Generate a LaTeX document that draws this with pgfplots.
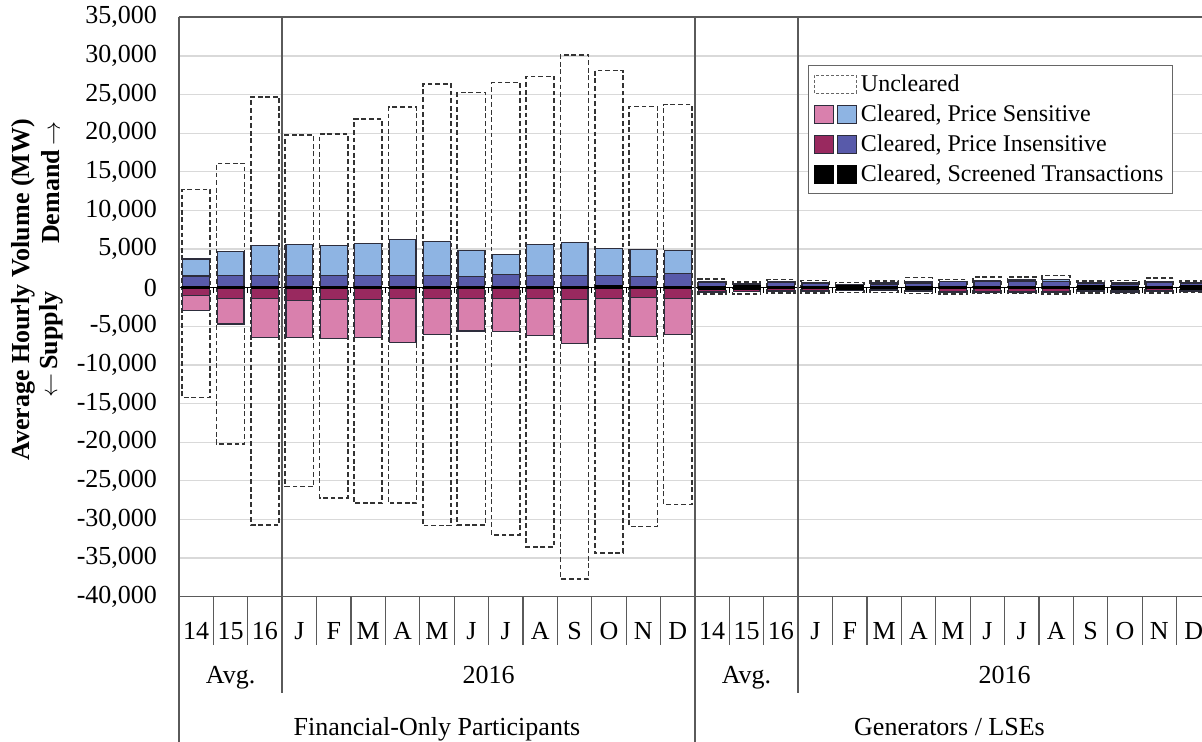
\documentclass[border=0pt]{standalone}
\usepackage{fontspec}
\setmainfont{Liberation Serif}
\usepackage{pgfplots}
\pgfplotsset{compat=1.18}

\definecolor{lblue}{RGB}{142,180,227}
\definecolor{dblue}{RGB}{88,90,170}
\definecolor{pinkc}{RGB}{217,128,173}
\definecolor{dred}{RGB}{153,41,95}
\definecolor{edge}{RGB}{45,45,60}
\definecolor{gridc}{RGB}{217,217,217}
\definecolor{divc}{RGB}{90,90,90}

\newcommand\fs{\fontsize{13}{15}\selectfont}
\newcommand\fsb{\fontsize{13}{15}\selectfont\bfseries}

% cumulative heights (MW)
% 0-14 Financial-Only, 15-29 Generators / LSEs
\pgfplotstableread{
x  uncU  ps   pi   sc   uncD   nps   npi   nsc
0  12700 3700 1500 100 -14200 -3000 -1000 -100
1  16100 4650 1600 100 -20250 -4700 -1450 -100
2  24700 5450 1600 100 -30700 -6450 -1450 -100
3  19750 5600 1600 100 -25750 -6400 -1700 -100
4  19900 5450 1600 100 -27200 -6550 -1550 -100
5  21800 5700 1600 100 -27900 -6400 -1500 -100
6  23350 6200 1600 100 -27900 -7050 -1400 -100
7  26400 6000 1600 100 -30800 -6100 -1450 -100
8  25250 4850 1400 100 -30700 -5600 -1350 -100
9  26550 4300 1750 100 -32000 -5700 -1450 -100
10 27350 5600 1600 100 -33550 -6200 -1450 -100
11 30150 5800 1600 100 -37700 -7200 -1550 -100
12 28100 5050 1600 250 -34350 -6550 -1450 -100
13 23450 4950 1400 100 -30900 -6350 -1250 -100
14 23700 4850 1800 100 -28050 -6100 -1350 -100
15 1150 800  650  200 -800 -550 -450 -200
16 750  550  450  250 -850 -500 -450 -250
17 1050 800  650  150 -700 -450 -350 -150
18 950  650  500  200 -700 -450 -350 -150
19 650  450  350  250 -650 -400 -350 -200
20 850  600  450  200 -650 -400 -300 -150
21 1300 800  600  200 -750 -500 -400 -200
22 1050 850  750  150 -800 -550 -450 -150
23 1400 950  800  150 -750 -550 -450 -150
24 1400 1000 800  150 -750 -550 -450 -150
25 1600 1050 850  150 -800 -550 -450 -150
26 900  650  500  250 -700 -500 -400 -200
27 950  600  450  200 -750 -550 -400 -200
28 1250 800  650  200 -700 -500 -400 -150
29 900  650  500  250 -650 -450 -350 -200
}\tbl

\begin{document}
\begin{tikzpicture}
\begin{axis}[
    name=ax,
    width=511.5pt, height=289.7pt, scale only axis,
    xmin=-0.5, xmax=29.24,
    ymin=-40000, ymax=35000,
    ytick={-40000,-35000,...,35000},
    scaled y ticks=false,
    yticklabel style={font=\fs, anchor=east, xshift=-7.5pt,
        /pgf/number format/.cd, fixed, 1000 sep={,}, assume math mode=true},
    xtick={0,...,29},
    xticklabels={14,15,16,J,F,M,A,M,J,J,A,S,O,N,D,14,15,16,J,F,M,A,M,J,J,A,S,O,N,D},
    xticklabel style={font=\fs, anchor=base, yshift=-21.6pt},
    major tick length=0pt,
    tick style={draw=none},
    axis line style={draw=none},
    ymajorgrids, major grid style={gridc, line width=0.6pt},
    clip=false,
    unc/.style={draw=black!80, line width=0.8pt, dash pattern=on 2.4pt off 1.4pt, fill=none},
    legend cell align=left,
    legend style={at={(0.615,0.918)}, anchor=north west, font=\fontsize{12}{14}\selectfont,
        draw=black!60, line width=0.6pt, fill=white, row sep=1.2pt, inner sep=2.5pt},
]
\addlegendimage{legend image code/.code={\draw[draw=black!60, line width=0.5pt, dash pattern=on 1.5pt off 1pt] (0pt,-4.5pt) rectangle (21pt,4.5pt);}}
\addlegendentry{Uncleared}
\addlegendimage{legend image code/.code={\draw[draw=edge, line width=0.5pt, fill=pinkc] (0pt,-4.5pt) rectangle (9.5pt,4.5pt); \draw[draw=edge, line width=0.5pt, fill=lblue] (11.5pt,-4.5pt) rectangle (21pt,4.5pt);}}
\addlegendentry{Cleared, Price Sensitive}
\addlegendimage{legend image code/.code={\draw[draw=edge, line width=0.5pt, fill=dred] (0pt,-4.5pt) rectangle (9.5pt,4.5pt); \draw[draw=edge, line width=0.5pt, fill=dblue] (11.5pt,-4.5pt) rectangle (21pt,4.5pt);}}
\addlegendentry{Cleared, Price Insensitive}
\addlegendimage{legend image code/.code={\draw[draw=black, fill=black] (0pt,-4.5pt) rectangle (9.5pt,4.5pt); \draw[draw=black, fill=black] (11.5pt,-4.5pt) rectangle (21pt,4.5pt);}}
\addlegendentry{Cleared, Screened Transactions}

% uncleared outlines
\addplot[ybar, bar width=0.82, unc, forget plot] table[x=x, y=uncU] {\tbl};
\addplot[ybar, bar width=0.82, unc, forget plot] table[x=x, y=uncD] {\tbl};
% demand side
\addplot[ybar, bar width=0.78, fill=lblue, draw=edge, line width=0.6pt, forget plot] table[x=x, y=ps] {\tbl};
\addplot[ybar, bar width=0.78, fill=dblue, draw=edge, line width=0.6pt, forget plot] table[x=x, y=pi] {\tbl};
\addplot[ybar, bar width=0.78, fill=black, draw=black, line width=0.6pt, forget plot] table[x=x, y=sc] {\tbl};
% supply side
\addplot[ybar, bar width=0.78, fill=pinkc, draw=edge, line width=0.6pt, forget plot] table[x=x, y=nps] {\tbl};
\addplot[ybar, bar width=0.78, fill=dred, draw=edge, line width=0.6pt, forget plot] table[x=x, y=npi] {\tbl};
\addplot[ybar, bar width=0.78, fill=black, draw=black, line width=0.6pt, forget plot] table[x=x, y=nsc] {\tbl};

% frame lines
\draw[divc, line width=0.8pt] (axis cs:-0.5,35000) -- (axis cs:29.24,35000);
\draw[divc, line width=0.8pt] (axis cs:-0.5,-40000) -- (axis cs:29.24,-40000);
\draw[black, line width=0.8pt] (axis cs:-0.5,0) -- (axis cs:29.24,0);
\pgfplotsinvokeforeach{-0.5,0.5,...,28.5}{
  \draw[black, line width=0.5pt] (axis cs:#1,0) -- ([yshift=-2.5pt]axis cs:#1,0);
  \draw[divc, line width=0.6pt] (axis cs:#1,-40000) -- ([yshift=-24pt]axis cs:#1,-40000);
}
\draw[divc, line width=1pt] (axis cs:-0.5,35000) -- ([yshift=-72.65pt]axis cs:-0.5,-40000);
\draw[divc, line width=0.8pt] (axis cs:14.5,35000) -- ([yshift=-72.65pt]axis cs:14.5,-40000);
\draw[divc, line width=0.8pt] (axis cs:2.5,35000) -- ([yshift=-48pt]axis cs:2.5,-40000);
\draw[divc, line width=0.8pt] (axis cs:17.5,35000) -- ([yshift=-48pt]axis cs:17.5,-40000);

% group labels
\node[font=\fs, anchor=base] at ([yshift=-43.6pt]axis cs:1,-40000) {Avg.};
\node[font=\fs, anchor=base] at ([yshift=-43.6pt]axis cs:8.5,-40000) {2016};
\node[font=\fs, anchor=base] at ([yshift=-43.6pt]axis cs:16,-40000) {Avg.};
\node[font=\fs, anchor=base] at ([yshift=-43.6pt]axis cs:23.5,-40000) {2016};
\node[font=\fs, anchor=base] at ([yshift=-69.5pt]axis cs:7,-40000) {Financial-Only Participants};
\node[font=\fs, anchor=base] at ([yshift=-69.5pt]axis cs:21.9,-40000) {Generators / LSEs};
\end{axis}

\node[rotate=90, font=\fsb] at ([xshift=-78pt,yshift=153.4pt]ax.south west) {Average Hourly Volume (MW)};
\node[rotate=90, font=\fsb] at ([xshift=-64pt,yshift=207pt]ax.south west) {Demand\,$\rightarrow$};
\node[rotate=90, font=\fsb] at ([xshift=-64pt,yshift=126pt]ax.south west) {$\leftarrow$\,Supply};

\pgfresetboundingbox
\path[use as bounding box] ([xshift=-89.5pt,yshift=-72.65pt]ax.south west) rectangle ([yshift=8.65pt]ax.north east);
\end{tikzpicture}
\end{document}
